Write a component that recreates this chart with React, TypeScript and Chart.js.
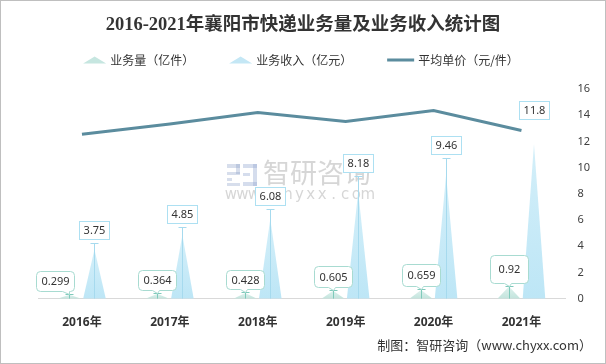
import React, { useEffect, useRef } from "react";
import { Chart, registerables } from "chart.js";

Chart.register(...registerables);

// ---------- data ----------
const titleText = "2016-2021年襄阳市快递业务量及业务收入统计图";
const footerText = "制图：智研咨询（www.chyxx.com）";
const categories = ["2016年", "2017年", "2018年", "2019年", "2020年", "2021年"];
const seriesNames = ["业务量（亿件）", "业务收入（亿元）", "平均单价（元/件）"];
const volumeValues = [0.299, 0.364, 0.428, 0.605, 0.659, 0.92];
const revenueValues = [3.75, 4.85, 6.08, 8.18, 9.46, 11.8];
const priceValues = [12.54, 13.32, 14.21, 13.52, 14.35, 12.83];
const yMin = 0;
const yMax = 16;
const yStep = 2;

// ---------- styles ----------
const VOL_TOP = "#dff2ee";
const VOL_BOTTOM = "#c3e4dd";
const REV_TOP = "#d4eff9";
const REV_BOTTOM = "#bde6f6";
const LINE_COLOR = "#5b8c9e";
const TEXT_COLOR = "#333333";
const LABEL_FONT = "11px 'Noto Sans', 'Open Sans', sans-serif";
const CJK = "'Noto Sans CJK SC', 'Noto Sans', sans-serif";
// label placement (pixels)
const revLabelGap = [19, 21, 23, 28, 30, 34];
const revLeader = [true, true, true, true, true, false];
const volLabelDx = [-14, 0, 0, 0, 0, 0];
const volBoxH = [20, 20, 19, 21, 22, 28];
const volBoxPad = [5, 5, 5, 5, 5, 8];

const trianglePlugin = {
  id: "triangleBars",
  beforeDatasetDraw(chart: any, args: any) {
    const ds = chart.data.datasets[args.index];
    if (ds.type !== "bar") return;
    const ctx = chart.ctx;
    ctx.save();
    args.meta.data.forEach((el: any) => {
      const { x, y, base, width } = el.getProps(["x", "y", "base", "width"], true);
      const g = ctx.createLinearGradient(0, y, 0, base);
      g.addColorStop(0, ds.topColor);
      g.addColorStop(1, ds.bottomColor);
      ctx.fillStyle = g;
      ctx.beginPath();
      ctx.moveTo(x - width / 2, base);
      ctx.lineTo(x, y);
      ctx.lineTo(x + width / 2, base);
      ctx.closePath();
      ctx.fill();
    });
    ctx.restore();
    return false;
  },
};

const watermarkPlugin = {
  id: "watermark",
  beforeDatasetsDraw(chart: any) {
    const ctx = chart.ctx;
    ctx.save();
    // logo
    ctx.fillStyle = "rgba(140,160,200,0.35)";
    ctx.fillRect(227, 164, 13, 4);
    ctx.fillRect(236, 164, 4, 10);
    ctx.fillRect(227, 172, 13, 3);
    ctx.fillRect(227, 178, 5, 3);
    ctx.fillRect(227, 183, 13, 3);
    ctx.fillStyle = "rgba(150,170,210,0.4)";
    ctx.fillRect(243, 164, 14, 4);
    ctx.fillRect(253, 164, 4, 22);
    ctx.fillRect(243, 182, 14, 4);
    ctx.fillRect(243, 173, 7, 3);
    // text
    ctx.fillStyle = "rgba(140,140,140,0.36)";
    ctx.font = "27px " + CJK;
    ctx.textAlign = "left";
    ctx.textBaseline = "middle";
    ctx.fillText("智研咨询", 263, 173);
    ctx.font = "15px 'DejaVu Sans', sans-serif";
    ctx.textAlign = "center";
    const w = "www.chyxx.com".split("");
    w.forEach((c, i) => ctx.fillText(c, 231 + i * 11.4, 195));
    ctx.restore();
  },
};

function roundedCallout(ctx: any, left: number, top: number, w: number, h: number, tipX: number, tipY: number) {
  const r = 4;
  const right = left + w;
  const bottom = top + h;
  ctx.beginPath();
  ctx.moveTo(left + r, top);
  ctx.lineTo(right - r, top);
  ctx.arcTo(right, top, right, top + r, r);
  ctx.lineTo(right, bottom - r);
  ctx.arcTo(right, bottom, right - r, bottom, r);
  const nx = Math.max(left + r + 5, Math.min(right - r - 3, tipX));
  ctx.lineTo(nx + 2, bottom);
  ctx.lineTo(tipX, tipY);
  ctx.lineTo(nx - 5, bottom);
  ctx.lineTo(left + r, bottom);
  ctx.arcTo(left, bottom, left, bottom - r, r);
  ctx.lineTo(left, top + r);
  ctx.arcTo(left, top, left + r, top, r);
  ctx.closePath();
}

const labelPlugin = {
  id: "valueLabels",
  afterDatasetsDraw(chart: any) {
    const ctx = chart.ctx;
    ctx.save();
    ctx.font = LABEL_FONT;
    ctx.textAlign = "center";
    ctx.textBaseline = "middle";
    // revenue labels
    const revMeta = chart.getDatasetMeta(1);
    revMeta.data.forEach((el: any, i: number) => {
      const { x, y, base } = el.getProps(["x", "y", "base"], true);
      const txt = String(revenueValues[i]);
      const tw = ctx.measureText(txt).width;
      const bw = Math.round(tw + 8);
      const bh = 18;
      const cy = y - revLabelGap[i];
      const left = Math.round(x - bw / 2) + 0.5;
      const top = Math.round(cy - bh / 2) + 0.5;
      if (revLeader[i]) {
        const capY = top + bh + 4;
        ctx.strokeStyle = "#a6daee";
        ctx.lineWidth = 1;
        ctx.beginPath();
        ctx.moveTo(Math.round(x) + 0.5, capY);
        ctx.lineTo(Math.round(x) + 0.5, base);
        ctx.moveTo(Math.round(x) - 3.5, capY);
        ctx.lineTo(Math.round(x) + 4.5, capY);
        ctx.stroke();
      }
      ctx.fillStyle = "#ffffff";
      ctx.fillRect(left, top, bw, bh);
      ctx.strokeStyle = "#ade0f2";
      ctx.lineWidth = 1;
      ctx.strokeRect(left, top, bw, bh);
      ctx.fillStyle = TEXT_COLOR;
      ctx.fillText(txt, left + bw / 2, top + bh / 2 + 0.5);
    });
    // volume callouts
    const volMeta = chart.getDatasetMeta(0);
    volMeta.data.forEach((el: any, i: number) => {
      const { x, y, base } = el.getProps(["x", "y", "base"], true);
      const txt = String(volumeValues[i]);
      const tw = ctx.measureText(txt).width;
      const bw = Math.round(tw + volBoxPad[i] * 2);
      const bh = volBoxH[i];
      const bottom = Math.round(y - 4) + 0.5;
      const top = bottom - bh;
      const left = Math.round(x + volLabelDx[i] - bw / 2) + 0.5;
      const tipY = bottom + 3;
      ctx.strokeStyle = "#7fcabb";
      ctx.lineWidth = 1;
      ctx.beginPath();
      ctx.moveTo(Math.round(x) + 0.5, tipY);
      ctx.lineTo(Math.round(x) + 0.5, base);
      ctx.moveTo(Math.round(x) - 3.5, tipY);
      ctx.lineTo(Math.round(x) + 4.5, tipY);
      ctx.stroke();
      roundedCallout(ctx, left, top, bw, bh, Math.round(x) + 0.5, tipY);
      ctx.fillStyle = "#ffffff";
      ctx.fill();
      ctx.strokeStyle = "#a8dbd1";
      ctx.stroke();
      ctx.fillStyle = TEXT_COLOR;
      ctx.fillText(txt, left + bw / 2, top + bh / 2 + 0.5);
    });
    ctx.restore();
  },
};

const headerPlugin = {
  id: "header",
  afterDraw(chart: any) {
    const ctx = chart.ctx;
    ctx.save();
    ctx.fillStyle = TEXT_COLOR;
    ctx.textBaseline = "middle";
    ctx.textAlign = "center";
    ctx.font = "bold 18.5px 'Liberation Serif', 'Noto Sans CJK SC', serif";
    ctx.fillText(titleText, 303, 25);

    // legend
    ctx.font = "12px " + CJK;
    ctx.textAlign = "left";
    const iconW = [23, 23, 27];
    const gap = 35;
    const textW = seriesNames.map((s) => ctx.measureText(s).width);
    let total = 0;
    for (let i = 0; i < 3; i++) total += iconW[i] + 4 + textW[i];
    total += gap * 2;
    let x = 301 - total / 2;
    const ly = 60;
    for (let i = 0; i < 3; i++) {
      if (i < 2) {
        ctx.fillStyle = i === 0 ? "#c6e6e0" : "#c4e7f5";
        ctx.beginPath();
        ctx.moveTo(x, ly + 3.5);
        ctx.lineTo(x + iconW[i] / 2, ly - 3.5);
        ctx.lineTo(x + iconW[i], ly + 3.5);
        ctx.closePath();
        ctx.fill();
      } else {
        ctx.fillStyle = LINE_COLOR;
        ctx.fillRect(x, ly - 1.5, iconW[i], 3);
      }
      x += iconW[i] + 4;
      ctx.fillStyle = TEXT_COLOR;
      ctx.fillText(seriesNames[i], x, ly);
      x += textW[i] + gap;
    }

    // footer
    ctx.font = "13px " + CJK;
    ctx.textAlign = "right";
    ctx.fillStyle = TEXT_COLOR;
    ctx.fillText(footerText, 592, 345);
    ctx.restore();
  },
};

export default function App() {
  const canvasRef = useRef<HTMLCanvasElement | null>(null);

  useEffect(() => {
    document.body.style.margin = "0";
    const canvas = canvasRef.current;
    if (!canvas) return;
    const chart = new Chart(canvas, {
      type: "bar",
      data: {
        labels: categories,
        datasets: [
          {
            type: "bar",
            label: seriesNames[0],
            data: volumeValues,
            backgroundColor: "rgba(0,0,0,0)",
            borderWidth: 0,
            order: 2,
            topColor: VOL_TOP,
            bottomColor: VOL_BOTTOM,
            categoryPercentage: 0.57,
            barPercentage: 0.9,
          } as any,
          {
            type: "bar",
            label: seriesNames[1],
            data: revenueValues,
            backgroundColor: "rgba(0,0,0,0)",
            borderWidth: 0,
            order: 2,
            topColor: REV_TOP,
            bottomColor: REV_BOTTOM,
            categoryPercentage: 0.57,
            barPercentage: 0.9,
          } as any,
          {
            type: "line",
            label: seriesNames[2],
            data: priceValues,
            borderColor: LINE_COLOR,
            backgroundColor: LINE_COLOR,
            borderWidth: 3,
            pointRadius: 0,
            pointHoverRadius: 0,
            tension: 0,
            order: 0,
          } as any,
        ],
      },
      options: {
        responsive: false,
        animation: false,
        events: [],
        layout: { padding: { top: 89, left: 38, right: 4, bottom: 17 } },
        plugins: {
          legend: { display: false },
          title: { display: false },
          tooltip: { enabled: false },
        },
        scales: {
          x: {
            grid: { display: false, drawTicks: false },
            border: { display: true, color: "#d9d9d9", width: 1 },
            ticks: {
              color: TEXT_COLOR,
              font: { family: "'Noto Sans', " + CJK, size: 12, weight: "bold" },
              padding: 17,
            },
          },
          y: {
            position: "right",
            min: yMin,
            max: yMax,
            grid: { display: false, drawTicks: false },
            border: { display: false },
            ticks: {
              stepSize: yStep,
              color: "#404040",
              font: { family: "'Noto Sans', sans-serif", size: 11 },
              padding: 12,
            },
          },
        },
      } as any,
      plugins: [watermarkPlugin, trianglePlugin, labelPlugin, headerPlugin],
    });
    return () => chart.destroy();
  }, []);

  return (
    <div style={{ position: "absolute", left: 0, top: 0, width: 606, height: 364, background: "#ffffff" }}>
      <canvas ref={canvasRef} width={606} height={364} style={{ display: "block" }} />
      <div
        style={{
          position: "absolute",
          left: 0,
          top: 0,
          width: 606,
          height: 364,
          boxSizing: "border-box",
          border: "1px solid #bfbfbf",
          pointerEvents: "none",
        }}
      />
    </div>
  );
}
